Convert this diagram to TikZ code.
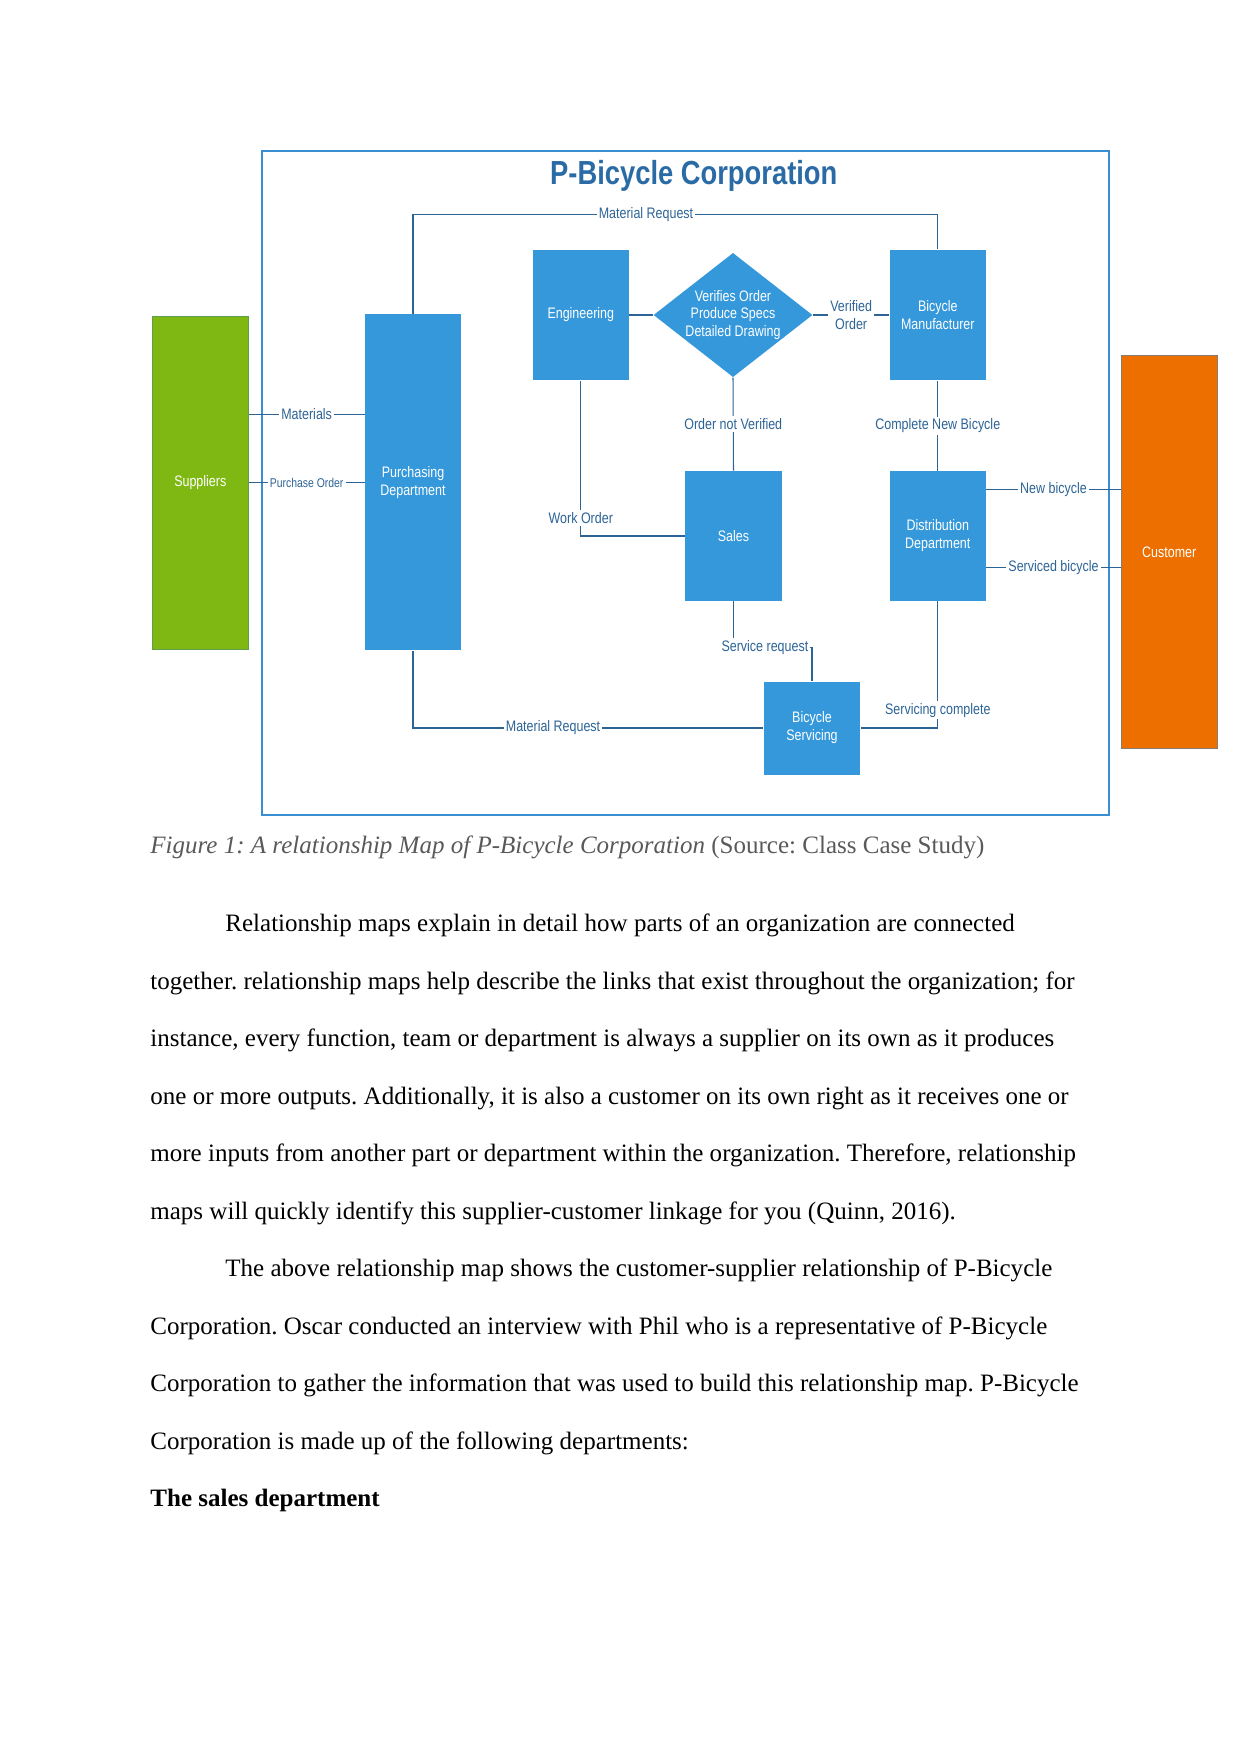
\documentclass[tikz,border=0pt]{standalone}
\usepackage{fontspec}
\setmainfont{Liberation Serif}
\newfontfamily\diagfont{Liberation Sans}[FakeStretch=0.82]
\usepackage{xcolor}
\usepackage{tikz}
\usetikzlibrary{shapes.geometric, positioning}
\frenchspacing

\definecolor{boxblue}{HTML}{3498DB}
\definecolor{suppgreen}{HTML}{7FB812}
\definecolor{suppedge}{HTML}{5E9E4E}
\definecolor{custorange}{HTML}{EC6F00}
\definecolor{custedge}{HTML}{8A7D70}
\definecolor{linecol}{HTML}{2D6496}
\definecolor{titlecol}{HTML}{2A6BA6}
\definecolor{framecol}{HTML}{3A8ED2}
\definecolor{capgray}{HTML}{595959}

\begin{document}
\begin{tikzpicture}[x=0.47967pt, y=-0.47967pt,
        box/.style={rectangle, fill=boxblue, text=white, inner sep=0pt, minimum width=46.1pt, align=center, font=\diagfont\fontsize{7.3}{8.6}\selectfont},
        check/.style={diamond, aspect=1.28, fill=boxblue, text=white, inner sep=0pt, minimum width=75.3pt, minimum height=59pt, align=center, font=\diagfont\fontsize{7.3}{8.6}\selectfont},
        lbl/.style={fill=white, inner sep=1pt, text=linecol, align=center, font=\diagfont\fontsize{7.3}{8.6}\selectfont},
        link/.style={draw=linecol, line width=0.5pt},
        textline/.style={anchor=base west, inner sep=0pt, font=\fontsize{12}{14}\selectfont}
    ]
        \useasboundingbox (0,0) rectangle (1241,1754);

        % ================= RELATIONSHIP MAP =================
        \draw[framecol, line width=1pt] (261.9,151) rectangle (1109,814.6);
        \node[font=\diagfont\bfseries\fontsize{16}{18}\selectfont, text=titlecol] (title) at (693.8,175.5) {P-Bicycle Corporation};

        \node[box, fill=suppgreen, draw=suppedge, minimum height=159.3pt] (supp) at (200.3,482.9) {Suppliers};
        \node[box, minimum height=161.2pt] (purch) at (413,482.2) {Purchasing\\Department};
        \node[box, minimum height=62.8pt] (eng) at (580.8,315) {Engineering};
        \node[check] (verify) at (733,315) {Verifies Order\\Produce Specs\\Detailed Drawing};
        \node[box, minimum height=62.8pt] (manuf) at (937.8,315) {Bicycle\\Manufacturer};
        \node[box, minimum width=46.5pt, minimum height=62.4pt] (sales) at (733.5,536) {Sales};
        \node[box, minimum height=62.4pt] (distr) at (937.8,536) {Distribution\\Department};
        \node[box, minimum width=46.5pt, minimum height=44.6pt] (servic) at (812,728) {Bicycle\\Servicing};
        \node[box, fill=custorange, draw=custedge, minimum height=188.5pt] (cust) at (1169.2,552.2) {Customer};

        \draw[link] (purch.north) -- ++(0,-99.6) -| node[lbl, pos=0.222] {Material Request} (manuf.north);
        \draw[link] ([yshift=33pt]supp.east) -- node[lbl] {Materials} ([yshift=33pt]supp.east -| purch.west);
        \draw[link] (supp.east) -- node[lbl, font=\diagfont\fontsize{6.1}{7}\selectfont] {Purchase Order} (supp.east -| purch.west);
        \draw[link] (eng.east) -- (verify.west);
        \draw[link] (verify.east) -- node[lbl] {Verified\\Order} (manuf.west);
        \draw[link] (verify.south) -- node[lbl] {Order not Verified} (sales.north);
        \draw[link] (eng.south) |- node[lbl, pos=0.442] {Work Order} (sales.west);
        \draw[link] (manuf.south) -- node[lbl] {Complete New Bicycle} (distr.north);
        \draw[link] ([yshift=22.5pt]distr.east) -- node[lbl] {New bicycle} ([yshift=22.5pt]distr.east -| cust.west);
        \draw[link] ([yshift=-15pt]distr.east) -- node[lbl] {Serviced bicycle} ([yshift=-15pt]distr.east -| cust.west);
        \draw[link] (sales.south) -- ++(0,45.8) -| node[lbl, pos=0.2] {Service request} (servic.north);
        \draw[link] (distr.south) |- node[lbl, pos=0.43] {Servicing complete} (servic.east);
        \draw[link] (purch.south) |- node[lbl, pos=0.7] {Material Request} (servic.west);

        % ================= CAPTION AND TEXT =================
        \node[textline, text=capgray] (caption) at (150,853) {\textit{Figure 1: A relationship Map of P-Bicycle Corporation} (Source: Class Case Study)};

        \node[textline] (p1l1) at (225,931.5) {Relationship maps explain in detail how parts of an organization are connected};
        \node[textline] (p1l2) at (150,989) {together. relationship maps help describe the links that exist throughout the organization; for};
        \node[textline] (p1l3) at (150,1046.5) {instance, every function, team or department is always a supplier on its own as it produces};
        \node[textline] (p1l4) at (150,1104) {one or more outputs. Additionally, it is also a customer on its own right as it receives one or};
        \node[textline] (p1l5) at (150,1161.5) {more inputs from another part or department within the organization. Therefore, relationship};
        \node[textline] (p1l6) at (150,1219) {maps will quickly identify this supplier-customer linkage for you (Quinn, 2016).};

        \node[textline] (p2l1) at (225,1276.5) {The above relationship map shows the customer-supplier relationship of P-Bicycle};
        \node[textline] (p2l2) at (150,1334) {Corporation. Oscar conducted an interview with Phil who is a representative of P-Bicycle};
        \node[textline] (p2l3) at (150,1391.5) {Corporation to gather the information that was used to build this relationship map. P-Bicycle};
        \node[textline] (p2l4) at (150,1449) {Corporation is made up of the following departments:};

        \node[textline, font=\bfseries\fontsize{12}{14}\selectfont] (head) at (150,1506.5) {The sales department};
    \end{tikzpicture}
\end{document}
